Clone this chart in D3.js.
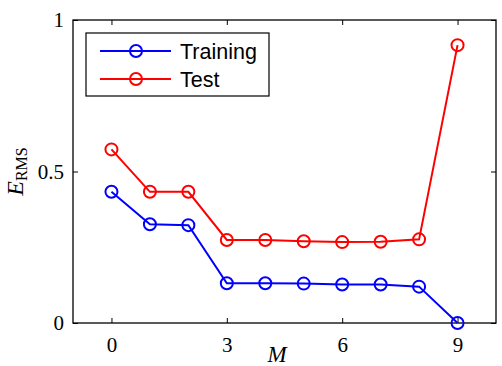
<!DOCTYPE html>
<html>
<head>
<meta charset="utf-8">
<script src="https://cdn.jsdelivr.net/npm/d3@7"></script>
<style>
  html, body { margin: 0; padding: 0; background: #fff; }
  svg { display: block; }
</style>
</head>
<body>
<svg id="chart" width="502" height="366"></svg>
<script>
const M = [0, 1, 2, 3, 4, 5, 6, 7, 8, 9];
const training = [0.433, 0.326, 0.323, 0.131, 0.131, 0.130, 0.127, 0.127, 0.120, 0.0];
const test = [0.573, 0.433, 0.433, 0.274, 0.274, 0.270, 0.267, 0.268, 0.276, 0.917];
const xTicks = [0, 3, 6, 9];
const yTicks = [0, 0.5, 1];
const yTickLabels = ["0", "0.5", "1"];
const seriesNames = ["Training", "Test"];
const seriesColors = ["#0000ff", "#ff0000"];

const svg = d3.select("#chart");
const pLeft = 73, pRight = 496, pTop = 20, pBottom = 323;

const x = d3.scaleLinear().domain([-1, 10]).range([pLeft, pRight]);
const y = d3.scaleLinear().domain([0, 1]).range([pBottom, pTop]);

// frame
svg.append("rect")
  .attr("x", pLeft).attr("y", pTop)
  .attr("width", pRight - pLeft).attr("height", pBottom - pTop)
  .attr("fill", "none").attr("stroke", "#000").attr("stroke-width", 1.3);

const serif = "'Liberation Serif', 'Times New Roman', serif";

// axes with inward ticks
const xAxisB = d3.axisBottom(x).tickValues(xTicks).tickSizeInner(-5).tickSizeOuter(0).tickPadding(14);
const gxb = svg.append("g").attr("transform", `translate(0,${pBottom})`).call(xAxisB);
const xAxisT = d3.axisTop(x).tickValues(xTicks).tickSizeInner(-5).tickSizeOuter(0).tickFormat("");
const gxt = svg.append("g").attr("transform", `translate(0,${pTop})`).call(xAxisT);
const yAxisL = d3.axisLeft(y).tickValues(yTicks).tickSizeInner(-5).tickSizeOuter(0)
  .tickFormat((d, i) => yTickLabels[i]).tickPadding(9);
const gyl = svg.append("g").attr("transform", `translate(${pLeft},0)`).call(yAxisL);
const yAxisR = d3.axisRight(y).tickValues(yTicks).tickSizeInner(-5).tickSizeOuter(0).tickFormat("");
const gyr = svg.append("g").attr("transform", `translate(${pRight},0)`).call(yAxisR);

[gxb, gxt, gyl, gyr].forEach(g => {
  g.select(".domain").remove();
  g.selectAll(".tick line").attr("stroke", "#000").attr("stroke-width", 1);
  g.selectAll("text").attr("font-family", serif).attr("font-size", 21).attr("fill", "#000");
});
gxb.selectAll("text").attr("dy", "0.71em");

// lines and markers
const seriesData = [training, test];
const line = d3.line().x((d, i) => x(M[i])).y(d => y(d));
seriesData.forEach((vals, k) => {
  svg.append("path")
    .datum(vals)
    .attr("d", line)
    .attr("fill", "none")
    .attr("stroke", seriesColors[k])
    .attr("stroke-width", 2);
  svg.append("g").selectAll("circle")
    .data(vals)
    .join("circle")
    .attr("cx", (d, i) => x(M[i]))
    .attr("cy", d => y(d))
    .attr("r", 6)
    .attr("fill", "none")
    .attr("stroke", seriesColors[k])
    .attr("stroke-width", 2);
});

// legend
const lg = svg.append("g");
lg.append("rect")
  .attr("x", 86).attr("y", 33).attr("width", 183).attr("height", 63)
  .attr("fill", "#fff").attr("stroke", "#000").attr("stroke-width", 1.2);
const legY = [51, 79];
seriesNames.forEach((name, k) => {
  lg.append("line")
    .attr("x1", 100).attr("x2", 171).attr("y1", legY[k]).attr("y2", legY[k])
    .attr("stroke", seriesColors[k]).attr("stroke-width", 2);
  lg.append("circle")
    .attr("cx", 136).attr("cy", legY[k]).attr("r", 6)
    .attr("fill", "none").attr("stroke", seriesColors[k]).attr("stroke-width", 2);
  lg.append("text")
    .attr("x", 180).attr("y", legY[k]).attr("dy", "0.36em")
    .attr("font-family", "'Liberation Sans', Arial, sans-serif")
    .attr("font-size", 21.5)
    .attr("fill", "#000")
    .text(name);
});

// x label
svg.append("text")
  .attr("x", 277).attr("y", 362)
  .attr("text-anchor", "middle")
  .attr("font-family", serif).attr("font-style", "italic").attr("font-size", 23)
  .attr("fill", "#000")
  .text("M");

// y label
const yl = svg.append("text")
  .attr("transform", `translate(23,${y(0.5)}) rotate(-90)`)
  .attr("text-anchor", "middle")
  .attr("font-family", serif).attr("font-size", 24).attr("fill", "#000");
yl.append("tspan").attr("font-style", "italic").text("E");
yl.append("tspan").attr("font-size", 16).attr("dy", 4).text("RMS");
</script>
</body>
</html>
